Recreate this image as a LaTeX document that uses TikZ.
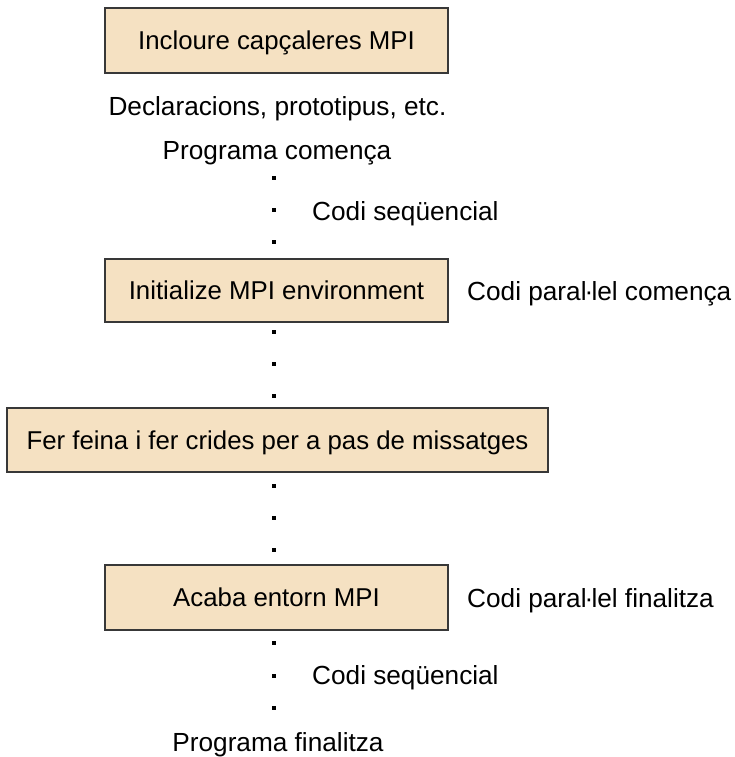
\documentclass[tikz,border=0pt]{standalone}
\usepackage{fontspec}
\setmainfont{Liberation Sans}
\definecolor{boxfill}{HTML}{F5E1C2}
\definecolor{boxline}{HTML}{383838}
% tight middle dot for the Catalan "l·l"
\newcommand{\ldot}{\kern-1.9pt·\kern-1.9pt}
\begin{document}
\begin{tikzpicture}[x=1pt,y=-1pt,
  stage/.style={draw=boxline, fill=boxfill, line width=2.2pt, inner sep=0pt,
    font=\fontsize{25.8}{31}\selectfont, text height=18.5pt, text depth=0pt},
  note/.style={inner sep=0pt, font=\fontsize{26.2}{31}\selectfont,
    text height=18.8pt, text depth=0pt},
  pt/.style={fill=black, inner sep=0pt, minimum size=4pt}]
\useasboundingbox (0,0) rectangle (734,757);

% processing stages
\node[stage, minimum width=343pt, minimum height=65pt] (inc) at (276.5,40.5) {Incloure capçaleres MPI};
\node[stage, minimum width=343pt, minimum height=63pt] (ini) at (276.5,290.5) {Initialize MPI environment};
\node[stage, minimum width=541pt, minimum height=64pt] (work) at (277.5,440) {Fer feina i fer crides per a pas de missatges};
\node[stage, minimum width=343pt, minimum height=65pt] (fin) at (276.5,597.5) {Acaba entorn MPI};

% annotations
\node[note] (decl) at (277.5,106) {Declaracions, prototipus, etc.};
\node[note] (start) at (277,150) {Programa comença};
\node[note, anchor=west] (seq1) at (312,211) {Codi seqüencial};
\node[note, anchor=west] (par1) at (467,291) {Codi paral\ldot lel comença};
\node[note, anchor=west] (par2) at (467,598) {Codi paral\ldot lel finalitza};
\node[note, anchor=west] (seq2) at (312,675) {Codi seqüencial};
\node[note] (end) at (278,742) {Programa finalitza};

% dotted flow between stages
\foreach \n/\y in {a1/178, a2/210, a3/242,
                   b1/332, b2/364, b3/396,
                   c1/486, c2/518, c3/550,
                   e1/643, e2/676, e3/708}
  \node[pt] (\n) at (273.5,\y) {};
\end{tikzpicture}
\end{document}
